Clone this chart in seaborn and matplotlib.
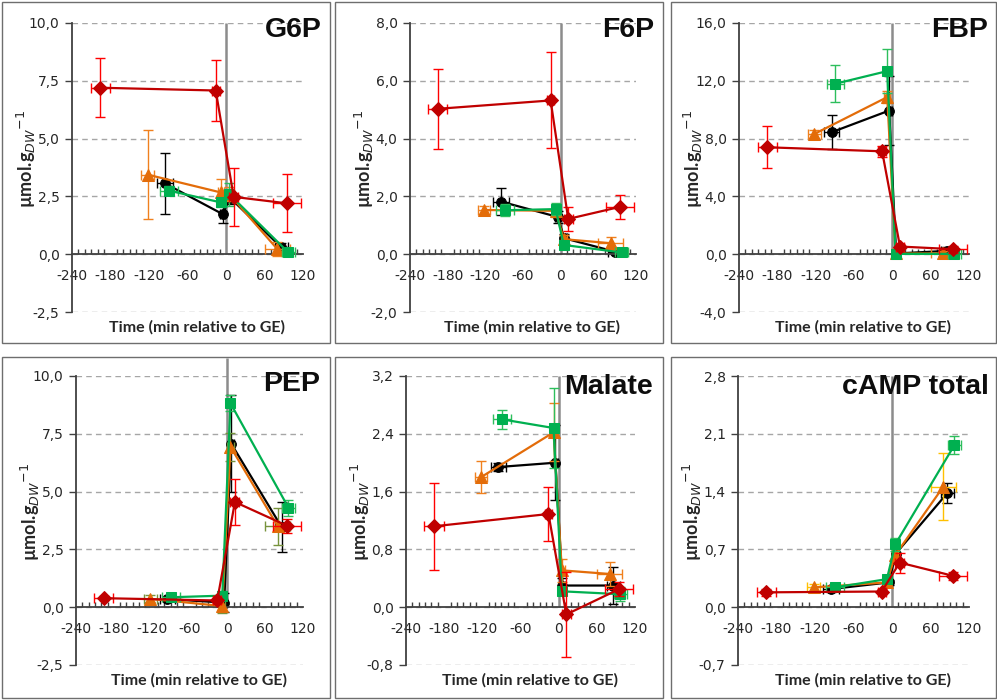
import numpy as np
import matplotlib
matplotlib.use("Agg")
import matplotlib.pyplot as plt
import seaborn as sns
from matplotlib.ticker import FuncFormatter, MultipleLocator
from matplotlib.patches import Rectangle

sns.set_theme(style="white")
plt.rcParams['font.family'] = ['DejaVu Sans']
plt.rcParams['axes.unicode_minus'] = False

W, H = 997, 700

# sampling times (min relative to GE), one set per strain
t_black = [-95, -5, 6, 86]
t_orange = [-122, -8, 5, 80]
t_green = [-89, -8, 5, 97]
t_red = [-196, -16, 12, 95]

xerr_black = [12, 4, 4, 10]
xerr_orange = [10, 5, 5, 20]
xerr_green = [14, 4, 4, 10]
xerr_red = [15, 6, 7, 22]

metabolites = ["G6P", "F6P", "FBP", "PEP", "Malate", "cAMP total"]
y_max = [10, 8, 16, 10, 3.2, 2.8]

# G6P
g6p_black = [3.06, 1.73, 2.45, 0.30]
g6p_black_err = [1.32, 0.36, 0.30, 0.20]
g6p_orange = [3.44, 2.67, 2.60, 0.22]
g6p_orange_err = [1.92, 0.58, 0.30, 0.30]
g6p_green = [2.75, 2.24, 2.60, 0.08]
g6p_green_err = [0.20, 0.20, 0.50, 0.12]
g6p_red = [7.20, 7.08, 2.48, 2.20]
g6p_red_err = [1.28, 1.34, 1.24, 1.26]

# F6P
f6p_black = [1.82, 1.29, 0.55, 0.09]
f6p_black_err = [0.48, 0.20, 0.15, 0.05]
f6p_orange = [1.53, 1.50, 0.52, 0.38]
f6p_orange_err = [0.15, 0.20, 0.15, 0.22]
f6p_green = [1.52, 1.56, 0.32, 0.06]
f6p_green_err = [0.20, 0.20, 0.10, 0.05]
f6p_red = [5.03, 5.32, 1.22, 1.64]
f6p_red_err = [1.39, 1.66, 0.40, 0.42]

# FBP
fbp_black = [8.44, 9.94, 0.05, 0.23]
fbp_black_err = [1.16, 2.40, 0.10, 0.30]
fbp_orange = [8.32, 10.87, 0.05, 0.05]
fbp_orange_err = [0.30, 0.40, 0.10, 0.15]
fbp_green = [11.80, 12.67, 0.02, 0.02]
fbp_green_err = [1.28, 1.50, 0.10, 0.10]
fbp_red = [7.40, 7.12, 0.53, 0.35]
fbp_red_err = [1.45, 0.40, 0.15, 0.25]

# PEP
pep_black = [0.35, 0.20, 7.08, 3.47]
pep_black_err = [0.10, 0.40, 2.10, 1.08]
pep_orange = [0.36, 0.05, 6.94, 3.50]
pep_orange_err = [0.15, 0.30, 0.60, 0.80]
pep_green = [0.43, 0.50, 8.82, 4.30]
pep_green_err = [0.12, 0.20, 0.35, 0.35]
pep_red = [0.39, 0.29, 4.55, 3.52]
pep_red_err = [0.10, 0.10, 1.00, 0.30]

# Malate
mal_black = [1.94, 2.00, 0.30, 0.30]
mal_black_err = [0.05, 0.52, 0.10, 0.26]
mal_orange = [1.80, 2.42, 0.51, 0.46]
mal_orange_err = [0.22, 0.40, 0.16, 0.17]
mal_green = [2.60, 2.48, 0.22, 0.18]
mal_green_err = [0.13, 0.56, 0.05, 0.10]
mal_red = [1.12, 1.29, -0.10, 0.25]
mal_red_err = [0.60, 0.37, 0.59, 0.10]

# cAMP total
camp_black = [0.22, 0.30, 0.65, 1.38]
camp_black_err = [0.03, 0.03, 0.08, 0.12]
camp_orange = [0.24, 0.30, 0.63, 1.46]
camp_orange_err = [0.04, 0.03, 0.10, 0.41]
camp_green = [0.24, 0.34, 0.76, 1.96]
camp_green_err = [0.03, 0.04, 0.08, 0.11]
camp_red = [0.18, 0.19, 0.54, 0.38]
camp_red_err = [0.04, 0.03, 0.12, 0.05]

panel_data = [
    [g6p_black, g6p_black_err, g6p_orange, g6p_orange_err, g6p_green, g6p_green_err, g6p_red, g6p_red_err],
    [f6p_black, f6p_black_err, f6p_orange, f6p_orange_err, f6p_green, f6p_green_err, f6p_red, f6p_red_err],
    [fbp_black, fbp_black_err, fbp_orange, fbp_orange_err, fbp_green, fbp_green_err, fbp_red, fbp_red_err],
    [pep_black, pep_black_err, pep_orange, pep_orange_err, pep_green, pep_green_err, pep_red, pep_red_err],
    [mal_black, mal_black_err, mal_orange, mal_orange_err, mal_green, mal_green_err, mal_red, mal_red_err],
    [camp_black, camp_black_err, camp_orange, camp_orange_err, camp_green, camp_green_err, camp_red, camp_red_err],
]

# plot areas in pixels: left, right, top, bottom
areas = [(72, 303, 23, 312), (410, 636, 23, 312), (739, 969, 23, 312),
         (76, 303, 376, 665), (406, 635, 376, 665), (738, 969, 376, 665)]
boxes = [(2, 330, 2, 343), (335, 663, 2, 343), (671, 996, 2, 343),
         (2, 330, 357, 698), (335, 663, 357, 698), (671, 996, 357, 698)]
title_pos = [(322, 17), (654, 17), (988, 17), (320, 371), (653, 374), (989, 374)]

orange_err_cols = ['#F0801E', '#F0801E', '#F0801E', '#77933C', '#F0801E', '#FFC000']

fig = plt.figure(figsize=(W / 100, H / 100), dpi=100)
fig.patch.set_facecolor('white')

comma = FuncFormatter(lambda v, p: f"{v:.1f}".replace('.', ','))

for i, name in enumerate(metabolites):
    l, r, t, b = areas[i]
    ax = fig.add_axes([l / W, 1 - b / H, (r - l) / W, (b - t) / H])
    ax.set_facecolor('none')
    top = y_max[i]
    ax.set_xlim(-240, 120)
    ax.set_ylim(-top / 4, top)
    d = panel_data[i]

    series = [
        (t_black, xerr_black, d[0], d[1], '#000000', '#000000', 'o', 7),
        (t_orange, xerr_orange, d[2], d[3], '#E36C09', orange_err_cols[i], '^', 8.5),
        (t_green, xerr_green, d[4], d[5], '#00B050', '#2DBE5C', 's', 7.5),
        (t_red, xerr_red, d[6], d[7], '#C00000', '#FF0000', 'D', 7),
    ]

    zero_top = top * 1.08 if name == "PEP" else top
    ax.vlines(0, 0, zero_top, color='#8c8c8c', lw=1.8, zorder=1, clip_on=False)

    for k, (tx, xe, yv, ye, col, ecol, mk, ms) in enumerate(series):
        ax.errorbar(tx, yv, yerr=ye, xerr=xe, fmt='none', ecolor=ecol,
                    elinewidth=1, capsize=3.5, capthick=1, zorder=2 + k)
        sns.lineplot(x=tx, y=yv, ax=ax, color=col, marker=mk, markersize=ms,
                     markeredgecolor=col, linewidth=1.6, sort=False,
                     estimator=None, zorder=2.5 + k)

    for s in ['top', 'right']:
        ax.spines[s].set_visible(False)
    ax.spines['bottom'].set_position(('data', 0))
    for s in ['left', 'bottom']:
        ax.spines[s].set_color('#404040')
        ax.spines[s].set_linewidth(1.3)

    ax.set_xticks(np.arange(-240, 121, 60))
    ax.xaxis.set_minor_locator(MultipleLocator(10))
    ax.set_yticks(np.linspace(-top / 4, top, 6))
    ax.yaxis.set_major_formatter(comma)
    ax.tick_params(axis='x', which='major', direction='inout', length=8, width=1,
                   color='#404040', pad=7, labelsize=10, labelcolor='#262626')
    ax.tick_params(axis='x', which='minor', direction='in', length=3.5, width=1,
                   color='#404040', bottom=True)
    ax.tick_params(axis='y', which='major', direction='out', length=5, width=1,
                   color='#404040', pad=4, labelsize=10, labelcolor='#262626', left=True)

    ax.grid(False)
    ax.yaxis.grid(True, linestyle=(0, (4, 3)), color='#a6a6a6', linewidth=1)
    ax.set_axisbelow(True)

    ax.set_xlabel("Time (min relative to GE)", fontsize=11.5, fontweight='bold',
                  family=['Lato', 'DejaVu Sans'], color='#262626')
    ax.xaxis.set_label_coords(0.54, -8 / (b - t))
    ax.set_ylabel("µmol.g$_{DW}{}^{-1}$", fontsize=13, fontweight='bold',
                  family=['Lato', 'DejaVu Sans'], color='#262626')
    ax.yaxis.set_label_coords(-34 / (r - l), 0.53)

    x0, x1, y0, y1 = boxes[i]
    fig.patches.append(Rectangle((x0 / W, 1 - y1 / H), (x1 - x0) / W, (y1 - y0) / H,
                                 transform=fig.transFigure, fill=False,
                                 edgecolor='#6e6e6e', linewidth=1))
    tx_, ty_ = title_pos[i]
    fig.text(tx_ / W, 1 - ty_ / H, name, ha='right', va='top', fontsize=20.5,
             fontweight='bold', family=['Liberation Sans', 'DejaVu Sans'], color='#0d0d0d')

fig.savefig("out.png", dpi=100, facecolor='white')
